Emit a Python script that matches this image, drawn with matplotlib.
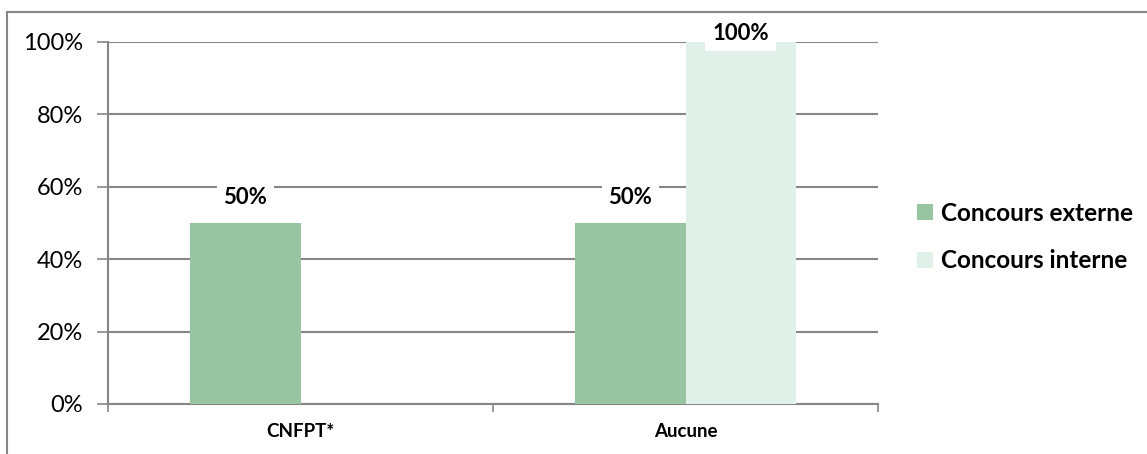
import matplotlib
matplotlib.use("Agg")
import matplotlib.pyplot as plt
from matplotlib.lines import Line2D
from matplotlib.patches import Patch
import numpy as np

categories = ["CNFPT*", "Aucune"]
externe = [50, 50]
interne = [0, 100]
series_names = ["Concours externe", "Concours interne"]
yticks = [0, 20, 40, 60, 80, 100]
ytick_labels = ["0%", "20%", "40%", "60%", "80%", "100%"]

c_ext = "#97c5a1"
c_int = "#dff1e9"
gridc = "#868686"

plt.rcParams["font.family"] = ["Lato", "DejaVu Sans"]

W, H = 1147, 454
fig = plt.figure(figsize=(W / 100, H / 100), dpi=100)
ax = fig.add_axes([108 / W, 1 - 404 / H, (878 - 108) / W, (404 - 42) / H])

x = np.arange(len(categories))
bw = 0.286
ax.bar(x - bw / 2, externe, bw, color=c_ext, zorder=3, label=series_names[0])
ax.bar(x + bw / 2, interne, bw, color=c_int, zorder=3, label=series_names[1])

ax.set_xlim(-0.5, len(categories) - 0.5)
ax.set_ylim(0, 100)
ax.set_yticks(yticks)
ax.set_yticklabels(ytick_labels, fontsize=17)
ax.yaxis.grid(True, color=gridc, linewidth=1.5, zorder=0)
ax.set_axisbelow(True)

ax.set_xticks(x)
ax.set_xticklabels(categories, fontsize=13.5, fontweight="bold")
ax.tick_params(axis="x", length=0, pad=14)
ax.set_xticks(np.arange(-0.5, len(categories), 1.0), minor=True)
ax.tick_params(axis="x", which="minor", length=6, width=1.2, color=gridc)
ax.tick_params(axis="y", length=8, width=1.2, color=gridc, pad=10)

for s in ["top", "right"]:
    ax.spines[s].set_visible(False)
for s in ["left", "bottom"]:
    ax.spines[s].set_color(gridc)
    ax.spines[s].set_linewidth(1.5)

bbox = dict(facecolor="white", edgecolor="none", pad=5)
for i, v in enumerate(externe):
    if v > 0:
        ax.text(x[i] - bw / 2, v + 7, f"{v}%", ha="center", va="center",
                fontsize=16, fontweight="bold", bbox=bbox, zorder=5)
for i, v in enumerate(interne):
    if v > 0:
        ax.text(x[i] + bw / 2, v + 2.3, f"{v}%", ha="center", va="center",
                fontsize=16, fontweight="bold", bbox=bbox, zorder=5, clip_on=False)

handles = [Patch(facecolor=c_ext, edgecolor="none"), Patch(facecolor=c_int, edgecolor="none")]
fig.legend(handles, series_names, loc="center left", bbox_to_anchor=(905 / W, 1 - 237 / H),
           frameon=False, prop={"size": 17.5, "weight": "bold"}, handlelength=0.65,
           handleheight=0.6, handletextpad=0.35, labelspacing=1.02, borderpad=0)

fig.add_artist(Line2D([7 / W, 7 / W], [0, 1 - 12 / H], color=gridc, linewidth=1.5,
                      transform=fig.transFigure))
fig.add_artist(Line2D([7 / W, 1], [1 - 12 / H, 1 - 12 / H], color=gridc, linewidth=1.5,
                      transform=fig.transFigure))

fig.savefig("out.png", dpi=100)
